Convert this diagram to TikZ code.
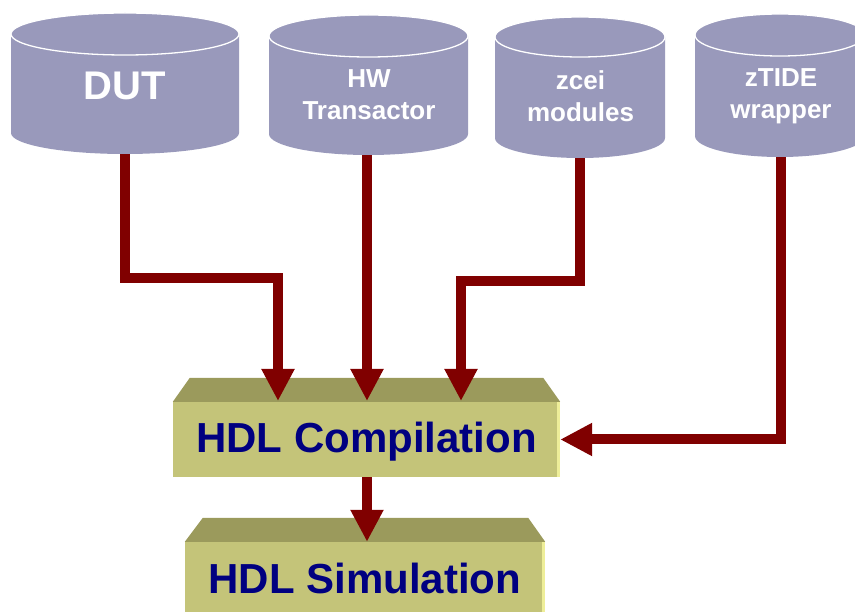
\documentclass[tikz,border=0pt]{standalone}
\usepackage{fontspec}
\setmainfont{Liberation Sans}
\usetikzlibrary{arrows.meta,calc}
\definecolor{cylfill}{HTML}{9999BB}
\definecolor{arrowred}{HTML}{800000}
\definecolor{boxfront}{HTML}{C4C479}
\definecolor{boxtop}{HTML}{9B9A5C}
\definecolor{boxedge}{HTML}{EEEE99}
\definecolor{navytext}{HTML}{000080}
\newcommand\mycyl[5]{%
  \fill[cylfill] (#1-#2,#3) -- (#1-#2,#4) arc[start angle=180,end angle=360,x radius=#2pt,y radius=#5pt] -- (#1+#2,#3) -- cycle;
  \fill[cylfill] (#1,#3) ellipse[x radius=#2pt,y radius=#5pt];
  \draw[white,line width=1.3pt] (#1,#3) ellipse[x radius=#2pt,y radius=#5pt];
}
\tikzset{
  conn/.style={draw=arrowred,line width=10pt,line join=miter,
    -{Triangle[length=32pt,width=31pt]}},
  cyltext/.style={text=white,font=\bfseries\fontsize{26}{32}\selectfont,anchor=base,inner sep=0pt},
  hdlbox/.style={fill=boxfront,inner sep=0pt,text=navytext,
    font=\bfseries\fontsize{42}{50}\selectfont},
}
\begin{document}
\begin{tikzpicture}[x=1pt,y=-1pt]
\useasboundingbox (0,0) rectangle (855,612);
% boxes
\node[hdlbox,minimum width=387pt,minimum height=75pt,text height=30pt,text depth=3pt] (cmp) at (366.5,439.5) {HDL Compilation};
\fill[boxtop] (cmp.north west) -- ++(17,-24) -- ($(cmp.north east)+(-17,-24)$) -- (cmp.north east) -- cycle;
\fill[boxedge] ($(cmp.north east)+(-3,0)$) rectangle (cmp.south east);
\node[hdlbox,minimum width=360pt,minimum height=100pt,text height=30pt,text depth=28pt] (sim) at (365,592) {HDL Simulation};
\fill[boxtop] (sim.north west) -- ++(18,-24) -- ($(sim.north east)+(-17,-24)$) -- (sim.north east) -- cycle;
\fill[boxedge] ($(sim.north east)+(-3,0)$) rectangle (sim.south east);
% connector anchors
\coordinate (dutb) at (125,150);
\coordinate (hwb) at (367,150);
\coordinate (zcb) at (580,152);
\coordinate (ztb) at (781,150);
\coordinate (t1) at (278,401);
\coordinate (t3) at (461,401);
% connectors
\draw[conn] (dutb) -- ++(0,128) -| (t1);
\draw[conn] (hwb) -- (hwb |- t1);
\draw[conn] (zcb) -- ++(0,129) -| (t3);
\draw[conn] (ztb) |- (cmp.east);
\draw[conn] (cmp.south -| hwb) -- (sim.north -| hwb);
% cylinders
\mycyl{125}{114}{34}{133}{21}
\mycyl{368.5}{99.5}{36}{134}{21}
\mycyl{580}{85}{37}{138}{20}
\mycyl{780}{85}{35}{136}{21}
\node[cyltext,font=\bfseries\fontsize{40}{48}\selectfont] (dut) at (125,100) {DUT};
\node[cyltext] (hw) at (369,120) {\begin{tabular}[b]{@{}c@{}}HW\\Transactor\end{tabular}};
\node[cyltext] (zcei) at (580.5,122) {\begin{tabular}[b]{@{}c@{}}zcei\\modules\end{tabular}};
\node[cyltext] (ztide) at (781,119) {\begin{tabular}[b]{@{}c@{}}zTIDE\\wrapper\end{tabular}};
\end{tikzpicture}
\end{document}
